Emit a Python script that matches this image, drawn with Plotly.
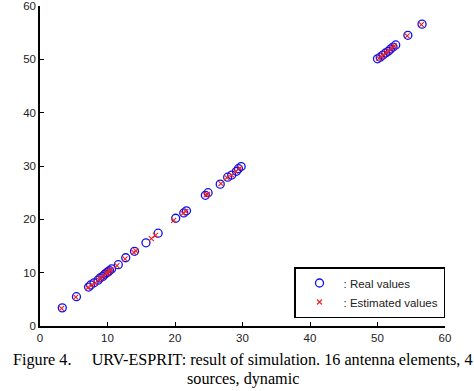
import plotly.graph_objects as go

real_x = [3.3, 5.4, 7.2, 7.5, 8.0, 8.6, 8.9, 9.3, 9.6, 9.9, 10.1, 10.3, 10.6, 11.6, 12.7, 14.0, 15.7, 17.5,
          20.1, 21.3, 21.7, 24.5, 24.9, 26.7, 27.8, 28.4, 29.1, 29.4, 29.8,
          50.0, 50.4, 50.8, 51.2, 51.6, 51.9, 52.3, 52.7, 54.5, 56.6]
real_y = [3.4, 5.5, 7.3, 7.7, 8.1, 8.6, 9.0, 9.3, 9.7, 10.0, 10.2, 10.4, 10.7, 11.5, 12.8, 14.0, 15.6, 17.4,
          20.2, 21.2, 21.6, 24.5, 25.0, 26.6, 27.9, 28.3, 29.0, 29.5, 29.9,
          50.1, 50.4, 50.8, 51.2, 51.5, 51.9, 52.3, 52.7, 54.5, 56.6]
est_x = [3.2, 5.3, 7.1, 7.6, 8.2, 8.7, 9.0, 9.4, 9.8, 10.0, 10.2, 10.5, 11.4, 12.6, 13.9, 14.2, 16.5, 17.1,
         19.8, 21.2, 21.6, 24.6, 24.8, 26.8, 27.7, 28.4, 29.0, 29.6,
         50.2, 50.6, 50.9, 51.3, 51.7, 52.1, 52.5, 54.4, 56.5]
est_y = [3.3, 5.4, 7.2, 7.6, 8.1, 8.7, 9.0, 9.4, 9.8, 10.0, 10.3, 10.5, 11.3, 12.6, 13.8, 14.1, 16.4, 17.0,
         19.8, 21.1, 21.5, 24.6, 24.7, 26.7, 27.8, 28.3, 29.0, 29.6,
         50.2, 50.5, 50.9, 51.3, 51.6, 52.1, 52.5, 54.4, 56.5]

x_ticks = [0, 10, 20, 30, 40, 50, 60]
y_ticks = [0, 10, 20, 30, 40, 50, 60]

caption_1 = "Figure 4." + "\u00a0" * 5 + "URV-ESPRIT: result of simulation. 16 antenna elements, 4"
caption_2 = "sources, dynamic"

fig = go.Figure()
fig.add_trace(go.Scatter(
    x=real_x, y=real_y, mode="markers", name=": Real values",
    marker=dict(symbol="circle-open", size=8, color="#1010ee", line=dict(width=1.3, color="#1010ee")),
))
fig.add_trace(go.Scatter(
    x=est_x, y=est_y, mode="markers", name=": Estimated values",
    marker=dict(symbol="x-thin-open", size=5, color="#ee2020", line=dict(width=1.1, color="#ee2020")),
))

axis_common = dict(
    showgrid=False, zeroline=False, showline=True, linecolor="black", linewidth=1.5,
    ticks="inside", ticklen=4, tickwidth=1, tickcolor="black",
    tickfont=dict(family="Liberation Sans, Arial", size=11.5, color="#222"),
    mirror=False, automargin=False,
)
fig.update_xaxes(range=[0, 60], tickvals=x_ticks, **axis_common)
fig.update_yaxes(range=[0, 60], tickvals=y_ticks, **axis_common)

cap_font = dict(family="Liberation Serif, Times New Roman", size=16.2, color="black")
fig.update_layout(
    width=474, height=391,
    margin=dict(l=40, r=29, t=6, b=65),
    plot_bgcolor="white", paper_bgcolor="white",
    showlegend=True,
    legend=dict(
        x=1.0, y=0.025, xanchor="right", yanchor="bottom",
        bordercolor="black", borderwidth=1.5, bgcolor="white",
        font=dict(family="Liberation Sans, Arial", size=11.5, color="#222"),
        itemwidth=38, tracegroupgap=0,
    ),
    annotations=[
        dict(text=caption_1, x=0.5, xref="paper", xanchor="center", yref="paper", y=-0.106,
             yanchor="middle", showarrow=False, font=cap_font),
        dict(text=caption_2, x=0.5, xref="paper", xanchor="center", yref="paper", y=-0.166,
             yanchor="middle", showarrow=False, font=cap_font),
    ],
)

fig.write_html("out.html", post_script="document.body.style.margin='0';",
               config={"displayModeBar": False})
